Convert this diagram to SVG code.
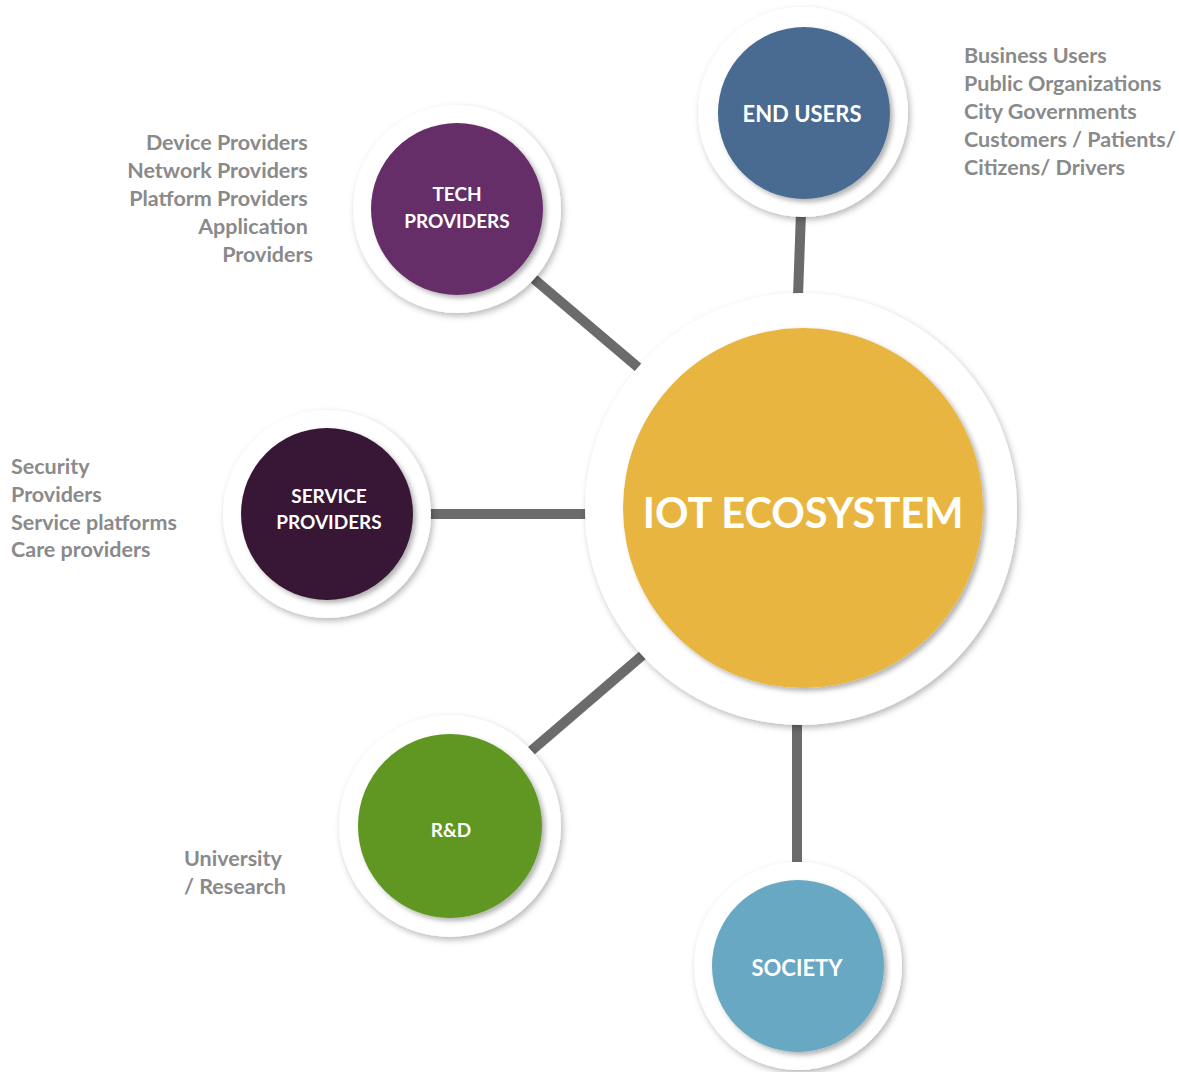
<svg xmlns="http://www.w3.org/2000/svg" width="1180" height="1072" viewBox="0 0 1180 1072">
<defs>
<filter id="ring" x="-20%" y="-20%" width="140%" height="140%">
<feDropShadow dx="2" dy="3" stdDeviation="3" flood-color="#000" flood-opacity="0.28"/>
</filter>
<filter id="disc" x="-20%" y="-20%" width="140%" height="140%">
<feDropShadow dx="3" dy="3" stdDeviation="2.5" flood-color="#000" flood-opacity="0.3"/>
</filter>
</defs>
<style>
.ring{fill:#fff;filter:url(#ring)}
.disc{filter:url(#disc)}
.lbl{font-family:Lato,"Open Sans",sans-serif;font-weight:700;font-size:21.5px;fill:#8a8a8a}
.nt{font-family:Lato,"Open Sans",sans-serif;font-weight:700;font-size:19px;fill:#fff;text-anchor:middle}
.big{font-size:22px}
.conn{stroke:#6b6b6b;stroke-width:10;fill:none}
</style>
<rect width="1180" height="1072" fill="#fff"/>
<g id="connectors">
<line class="conn" x1="801" y1="212" x2="798" y2="296"/>
<line class="conn" x1="534" y1="279" x2="640" y2="369"/>
<line class="conn" x1="428" y1="514" x2="590" y2="514"/>
<line class="conn" x1="531" y1="751" x2="644" y2="654"/>
<line class="conn" x1="797" y1="720" x2="797" y2="862"/>
</g>
<g id="iot-ecosystem">
<circle class="ring" cx="801" cy="509" r="216"/>
<circle class="disc" cx="803" cy="508" r="180" fill="#e8b641"/>
<text x="803" y="528" font-family="Lato,'Open Sans',sans-serif" font-weight="700" font-size="41.5" fill="#fff" text-anchor="middle">IOT ECOSYSTEM</text>
</g>
<g id="end-users">
<circle class="ring" cx="803" cy="112" r="105"/>
<circle class="disc" cx="804" cy="113" r="86" fill="#4a6a91"/>
<text class="nt big" x="802" y="122">END USERS</text>
</g>
<g id="tech-providers">
<circle class="ring" cx="457" cy="209" r="104"/>
<circle class="disc" cx="457" cy="209" r="86" fill="#662e67"/>
<text class="nt" x="457" y="201">TECH</text>
<text class="nt" x="457" y="228">PROVIDERS</text>
</g>
<g id="service-providers">
<circle class="ring" cx="327" cy="514" r="104"/>
<circle class="disc" cx="327" cy="514" r="86" fill="#371935"/>
<text class="nt" x="329" y="503">SERVICE</text>
<text class="nt" x="329" y="529">PROVIDERS</text>
</g>
<g id="rnd">
<circle class="ring" cx="450" cy="826" r="111"/>
<circle class="disc" cx="450" cy="826" r="92" fill="#5e9722"/>
<text class="nt" x="451" y="837">R&amp;D</text>
</g>
<g id="society">
<circle class="ring" cx="798" cy="966" r="104"/>
<circle class="disc" cx="798" cy="966" r="86" fill="#67a8c3"/>
<text class="nt big" x="797" y="976">SOCIETY</text>
</g>
<g id="labels">
<text class="lbl" x="964">
<tspan x="964" y="63">Business Users</tspan>
<tspan x="964" y="91">Public Organizations</tspan>
<tspan x="964" y="119">City Governments</tspan>
<tspan x="964" y="147">Customers / Patients/</tspan>
<tspan x="964" y="175">Citizens/ Drivers</tspan>
</text>
<text class="lbl" text-anchor="end">
<tspan x="313" y="150">Device Providers</tspan>
<tspan x="313" y="178">Network Providers</tspan>
<tspan x="313" y="206">Platform Providers</tspan>
<tspan x="313" y="234">Application</tspan>
<tspan x="313" y="262">Providers</tspan>
</text>
<text class="lbl">
<tspan x="11" y="474">Security</tspan>
<tspan x="11" y="502">Providers</tspan>
<tspan x="11" y="530">Service platforms</tspan>
<tspan x="11" y="557">Care providers</tspan>
</text>
<text class="lbl">
<tspan x="184" y="866">University</tspan>
<tspan x="184" y="894">/ Research</tspan>
</text>
</g>
</svg>
